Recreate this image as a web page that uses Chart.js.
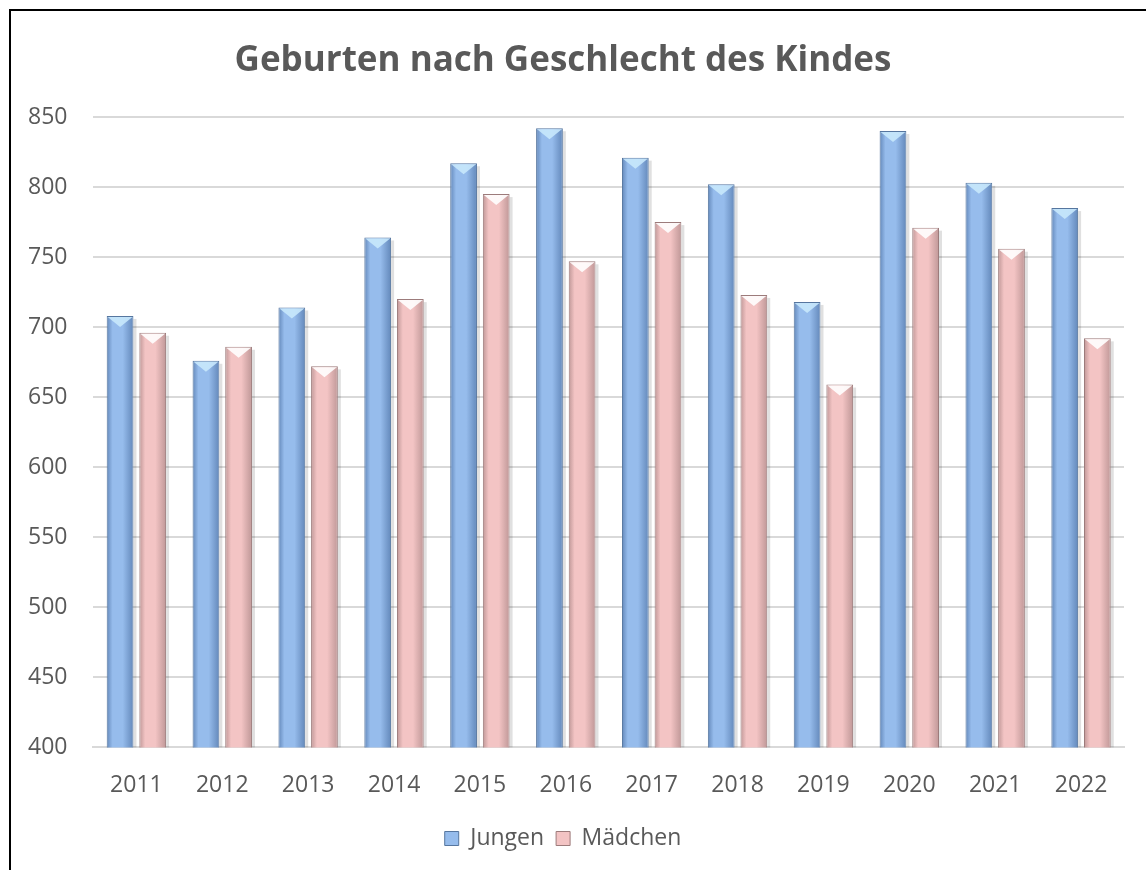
<!DOCTYPE html>
<html><head><meta charset="utf-8">
<script src="https://cdn.jsdelivr.net/npm/chart.js@4/dist/chart.umd.min.js"></script>
<style>html,body{margin:0;padding:0;background:#fff}#wrap{position:absolute;left:0;top:0;width:1146px;height:870px}</style>
</head><body><div id="wrap"><canvas id="c" width="1146" height="870"></canvas></div>
<script>
const categories = ["2011","2012","2013","2014","2015","2016","2017","2018","2019","2020","2021","2022"];
const jungen = [708, 676, 714, 764, 817, 842, 821, 802, 718, 840, 803, 785];
const maedchen = [696, 686, 672, 720, 795, 747, 775, 723, 659, 771, 756, 692];
const yTicks = [400, 450, 500, 550, 600, 650, 700, 750, 800, 850];
const seriesNames = ["Jungen", "Mädchen"];
const titleText = "Geburten nach Geschlecht des Kindes";

const CAT_PCT = 0.76, BAR_PCT = 0.82;
const palettes = [
  {edge:"#6388ba", mid:"#96bcec", top:"#c8e8fc", border:"#56769f"},
  {edge:"#bf9797", mid:"#f3c4c4", top:"#ffffff", border:"#9c7b7b"}
];

function barGradient(context) {
  const chart = context.chart;
  const di = context.datasetIndex;
  const p = palettes[di];
  const xs = chart.scales.x;
  if (!xs || !chart.chartArea || context.dataIndex === undefined) return p.mid;
  const cw = (chart.chartArea.right - chart.chartArea.left) / categories.length;
  const slot = cw * CAT_PCT / 2;
  const cx = xs.getPixelForValue(context.dataIndex) + (di - 0.5) * slot;
  const w = slot * BAR_PCT;
  const g = chart.ctx.createLinearGradient(cx - w / 2, 0, cx + w / 2, 0);
  g.addColorStop(0, p.edge);
  g.addColorStop(0.22, p.mid);
  g.addColorStop(0.6, p.mid);
  g.addColorStop(1, p.edge);
  return g;
}

const bevelPlugin = {
  id: "bevel",
  beforeDraw(chart) {
    const ctx = chart.ctx;
    ctx.save();
    ctx.fillStyle = "#fff";
    ctx.fillRect(0, 0, chart.width, chart.height);
    ctx.strokeStyle = "#000";
    ctx.lineWidth = 2;
    ctx.strokeRect(10, 10, chart.width + 10, chart.height + 10);
    ctx.restore();
  },
  beforeDatasetsDraw(chart) {
    const ctx = chart.ctx;
    const bottom = chart.chartArea.bottom;
    chart.data.datasets.forEach((ds, di) => {
      chart.getDatasetMeta(di).data.forEach(el => {
        const r = el.x + el.width / 2;
        ctx.save();
        ctx.fillStyle = "rgba(0,0,0,0.12)";
        ctx.fillRect(r, el.y + 3, 3, Math.min(el.base, bottom) - el.y - 3);
        ctx.restore();
      });
    });
  },
  afterDatasetsDraw(chart) {
    const ctx = chart.ctx;
    chart.data.datasets.forEach((ds, di) => {
      const p = palettes[di];
      chart.getDatasetMeta(di).data.forEach(el => {
        const l = el.x - el.width / 2, r = el.x + el.width / 2;
        ctx.save();
        ctx.fillStyle = p.top;
        ctx.globalAlpha = 0.9;
        ctx.beginPath();
        ctx.moveTo(l + 1, el.y + 1);
        ctx.lineTo(r - 1, el.y + 1);
        ctx.lineTo(el.x, el.y + 11);
        ctx.closePath();
        ctx.fill();
        ctx.restore();
      });
    });
  }
};

new Chart(document.getElementById("c"), {
  type: "bar",
  data: {
    labels: categories,
    datasets: [
      {label: seriesNames[0], data: jungen, backgroundColor: barGradient, borderColor: palettes[0].border, borderWidth: 1},
      {label: seriesNames[1], data: maedchen, backgroundColor: barGradient, borderColor: palettes[1].border, borderWidth: 1}
    ]
  },
  options: {
    responsive: false,
    animation: false,
    devicePixelRatio: 1,
    categoryPercentage: CAT_PCT,
    barPercentage: BAR_PCT,
    layout: {padding: {left: 2, right: 22, top: 40, bottom: 10}},
    plugins: {
      title: {display: true, text: titleText, color: "#595959",
        font: {family: "'Open Sans'", size: 35, weight: "bold"}, padding: {top: 0, bottom: 35}},
      legend: {position: "bottom", labels: {color: "#595959", font: {family: "'Open Sans'", size: 23},
        boxWidth: 14, boxHeight: 14, padding: 12,
        generateLabels(chart) {
          return chart.data.datasets.map((ds, i) => ({text: ds.label, fillStyle: palettes[i].mid,
            strokeStyle: palettes[i].border, lineWidth: 1, datasetIndex: i, fontColor: "#595959"}));
        }}},
      tooltip: {enabled: false}
    },
    scales: {
      x: {grid: {display: false}, border: {color: "#d9d9d9", width: 2},
        ticks: {color: "#595959", font: {family: "'Open Sans'", size: 23}, padding: 16}},
      y: {min: 400, max: 850, border: {display: false},
        grid: {color: "#d9d9d9", lineWidth: 2, drawTicks: false},
        afterBuildTicks(axis) { axis.ticks = yTicks.map(v => ({value: v})); },
        ticks: {color: "#595959", font: {family: "'Open Sans'", size: 23}, padding: 26}}
    }
  },
  plugins: [bevelPlugin]
});
</script></body></html>
